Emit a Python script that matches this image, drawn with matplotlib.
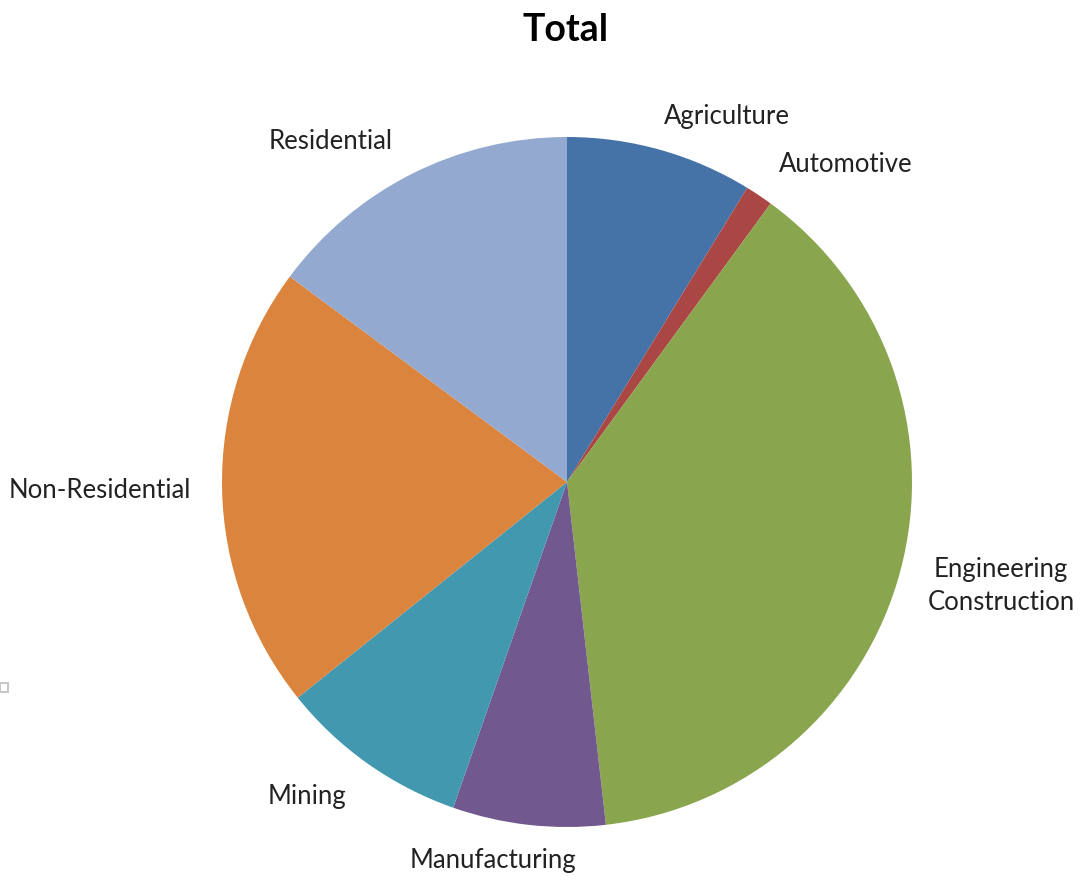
import matplotlib
matplotlib.use("Agg")
import matplotlib.pyplot as plt
from matplotlib.patches import Rectangle

# sector shares (%), clockwise from 12 o'clock
sectors = ['Agriculture', 'Automotive', 'Engineering\nConstruction', 'Manufacturing',
           'Mining', 'Non-Residential', 'Residential']
shares = [8.75, 1.3, 38.15, 7.15, 8.9, 20.9, 14.85]
colors = ['#4572A7', '#AA4643', '#89A54E', '#71588F', '#4198AF', '#DB843D', '#93A9CF']

# where each label sits, in pie units (radius = 1)
label_xy = [(0.464, 1.058), (0.809, 0.919), (1.258, -0.301), (-0.214, -1.096),
            (-0.754, -0.913), (-1.354, -0.026), (-0.684, 0.988)]

plt.rcParams['font.family'] = ['Lato', 'DejaVu Sans']

fig = plt.figure(figsize=(10.8, 8.82), dpi=100)
# axes sized so radius 1 -> 345 px, centred at (567, 482)
r_px = 345.0
cx, cy = 567.0, 482.0
W, H = 1080.0, 882.0
ax = fig.add_axes([(cx - r_px) / W, (H - cy - r_px) / H, 2 * r_px / W, 2 * r_px / H])

ax.pie(shares, colors=colors, startangle=90, counterclock=False,
       wedgeprops=dict(linewidth=0), radius=1)
ax.set_xlim(-1, 1)
ax.set_ylim(-1, 1)
ax.set_aspect('equal')
ax.axis('off')

for name, (x, y) in zip(sectors, label_xy):
    ax.text(x, y, name, ha='center', va='center', fontsize=18.5, color='#222222',
            linespacing=1.4, clip_on=False)

fig.text(566 / W, 1 - 30 / H, 'Total', ha='center', va='center',
         fontsize=27, fontweight='bold', color='black')

# small selection handle at the left edge
fig.patches.append(Rectangle((0, 1 - 692 / H), 8 / W, 9 / H, transform=fig.transFigure,
                             facecolor='white', edgecolor='#c8c8c8', linewidth=1.5))

fig.savefig('out.png', dpi=100)
